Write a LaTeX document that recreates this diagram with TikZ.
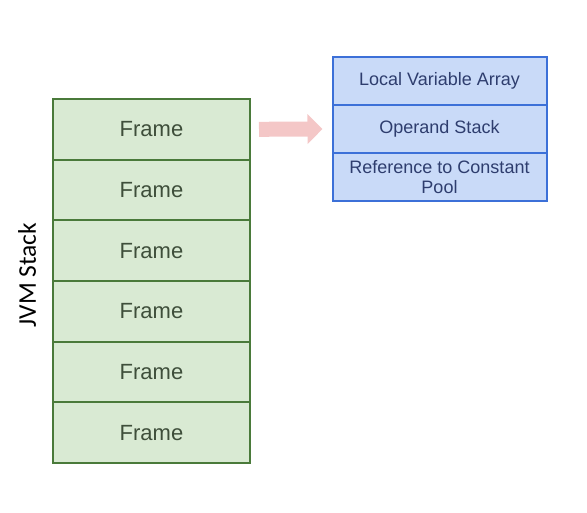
\documentclass[tikz,border=0pt]{standalone}
\usepackage{fontspec}
\setmainfont{Liberation Sans}
\newfontfamily\labelfont{Carlito}
\usetikzlibrary{arrows.meta}
\definecolor{framefill}{HTML}{D9EAD3}
\definecolor{frameline}{HTML}{4A7A3A}
\definecolor{frametext}{HTML}{3E4E3A}
\definecolor{partfill}{HTML}{C9DAF8}
\definecolor{partline}{HTML}{3C70D8}
\definecolor{parttext}{HTML}{2E3D6E}
\definecolor{arrowpink}{HTML}{F4C7C7}
\begin{document}
\begin{tikzpicture}[x=1pt,y=-1pt,
  framebox/.style={draw=frameline,line width=2pt,fill=framefill,text=frametext,
    minimum width=197pt,minimum height=60.67pt,inner sep=0pt,font=\fontsize{22}{24}\selectfont},
  partbox/.style={draw=partline,line width=2pt,fill=partfill,text=parttext,
    minimum width=214pt,minimum height=48pt,inner sep=0pt,align=center,
    font=\fontsize{18}{20}\selectfont}]
  \useasboundingbox (0,0) rectangle (587,513);
  % the stack of frames
  \foreach \i in {1,...,6}
    \node[framebox] (f\i) at (151.5,{129.3+(\i-1)*60.67}) {Frame};
  \node[rotate=90,font=\labelfont\fontsize{25.5}{27}\selectfont] (jvm) at (27,275) {JVM Stack};
  % one frame, opened up
  \node[partbox] (lva) at (439.5,81) {Local Variable Array};
  \node[partbox] (ops) at (439.5,129) {Operand Stack};
  \node[partbox] (rcp) at (439.5,177) {Reference to Constant\\Pool};
  \draw[arrowpink,line width=15pt,-{Triangle[length=15pt,width=29pt]}]
    ([xshift=8pt]f1.east) -- ([xshift=-9pt]ops.west);
\end{tikzpicture}
\end{document}
